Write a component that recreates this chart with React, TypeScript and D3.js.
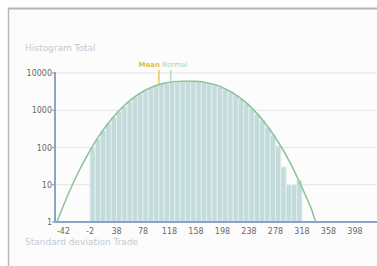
import React from "react";
import * as d3 from "d3";

// Histogram bins (start of each bin, width 8)
const binStarts = [
  -2, 6, 14, 22, 30, 38, 46, 54, 62, 70, 78, 86, 94, 102, 110, 118, 126, 134, 142, 150,
  158, 166, 174, 182, 190, 198, 206, 214, 222, 230, 238, 246, 254, 262, 270, 278, 286, 294, 302, 310,
];
const binCounts = [
  100, 170, 280, 430, 640, 920, 1270, 1700, 2200, 2750, 3300, 3850, 4400, 4850, 5200, 5450, 5650, 5750, 5780, 5740,
  5620, 5400, 5080, 4650, 4150, 3600, 3050, 2480, 1960, 1500, 1100, 780, 530, 350, 215, 110, 30, 10, 10, 13,
];
const binWidth = 8;

// Normal curve
const curveX = [-52, -36, -20, -4, 12, 28, 44, 60, 76, 92, 108, 124, 140, 156, 172, 188, 204, 220, 236, 252, 268, 284, 300, 316, 332, 340, 450];
const curveY = [1, 5, 21, 72, 208, 508, 1067, 1932, 3034, 4207, 5190, 5810, 6020, 5960, 5546, 4730, 3624, 2455, 1462, 752, 330, 124, 39, 10, 2.3, 1, 1];

const xTicks = [-42, -2, 38, 78, 118, 158, 198, 238, 278, 318, 358, 398];
const yTicks = [1, 10, 100, 1000, 10000];

const markerLabels = ["Mean", "Normal"];
const markerValues = [102, 120];
const markerColors = ["#dcc040", "#a8d4a8"];

const title = "Histogram Total";
const xTitle = "Standard deviation Trade";

export default function App() {
  const x = d3.scaleLinear().domain([-2, 318]).range([90, 302]);
  const y = d3.scaleLog().domain([1, 10000]).range([222, 73]);
  const axisLeft = 55;
  const axisBottom = y(1);

  const line = d3
    .line<number>()
    .x((_, i) => x(curveX[i]))
    .y((d) => y(Math.max(1, d)))
    .curve(d3.curveMonotoneX);

  const font = "'DejaVu Sans', sans-serif";

  return (
    <svg
      width={377}
      height={266}
      style={{ position: "absolute", left: 0, top: 0, display: "block" }}
    >
      <rect x={0} y={0} width={377} height={266} fill="#ffffff" />
      <rect x={8} y={8} width={400} height={300} fill="#fcfcfc" />
      <line x1={8} y1={8.5} x2={377} y2={8.5} stroke="#b4b4b4" strokeWidth={2} />
      <line x1={8.5} y1={8} x2={8.5} y2={266} stroke="#b8b8b8" strokeWidth={1.5} />

      <text x={25} y={51} fontFamily={font} fontSize={9} fill="#c2cad6">
        {title}
      </text>

      {yTicks.map((t) => (
        <g key={"g" + t}>
          <line x1={axisLeft} x2={377} y1={y(t)} y2={y(t)} stroke="#e4e4e4" strokeWidth={1.2} />
          <line x1={axisLeft - 3} x2={axisLeft} y1={y(t)} y2={y(t)} stroke="#8ea2c8" strokeWidth={1.2} />
          <text
            x={axisLeft - 3}
            y={y(t) + 3}
            textAnchor="end"
            fontFamily={font}
            fontSize={8}
            fill="#6a6a6a"
          >
            {t}
          </text>
        </g>
      ))}

      {binCounts.map((c, i) => (
        <rect
          key={"b" + i}
          x={x(binStarts[i])}
          y={y(c)}
          width={x(binStarts[i] + binWidth) - x(binStarts[i])}
          height={axisBottom - y(c)}
          fill="#c3dbda"
          stroke="#e2eeee"
          strokeWidth={1}
        />
      ))}

      <path d={line(curveY) || ""} fill="none" stroke="#8fc39c" strokeWidth={1.6} />

      {markerValues.map((v, i) => (
        <line
          key={"m" + i}
          x1={x(v)}
          x2={x(v)}
          y1={70}
          y2={84}
          stroke={markerColors[i]}
          strokeWidth={1.2}
        />
      ))}
      <text x={x(markerValues[0]) + 1} y={67} textAnchor="end" fontFamily={font} fontSize={7} fontWeight="bold" fill={markerColors[0]}>
        {markerLabels[0]}
      </text>
      <text x={x(markerValues[0]) + 3} y={67} fontFamily={font} fontSize={7} fill={markerColors[1]}>
        {markerLabels[1]}
      </text>

      <line x1={axisLeft} x2={axisLeft} y1={y(10000) - 1} y2={axisBottom + 1} stroke="#8ea2c8" strokeWidth={2} />
      <line x1={axisLeft} x2={377} y1={axisBottom} y2={axisBottom} stroke="#8ea2c8" strokeWidth={2} />

      {xTicks.map((t) => (
        <text
          key={"x" + t}
          x={x(t)}
          y={234}
          textAnchor="middle"
          fontFamily={font}
          fontSize={8}
          fill="#6a6a6a"
        >
          {t}
        </text>
      ))}

      <text x={25} y={245} fontFamily={font} fontSize={9} fill="#c2cad6">
        {xTitle}
      </text>
    </svg>
  );
}
